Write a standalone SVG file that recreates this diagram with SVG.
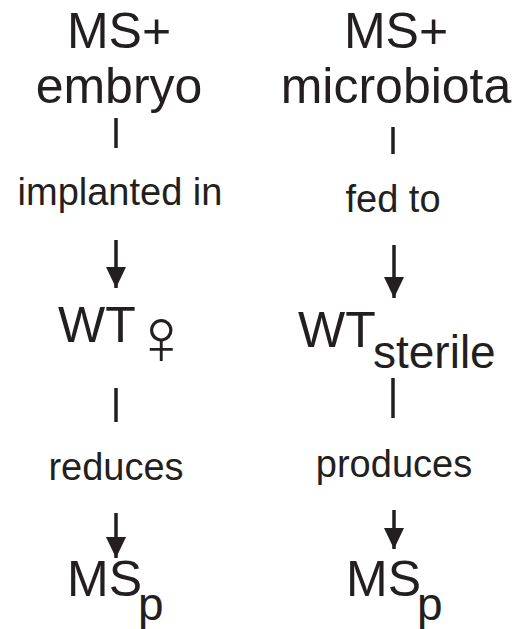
<svg xmlns="http://www.w3.org/2000/svg" width="512" height="629" viewBox="0 0 512 629">
<style>
text{font-family:"Liberation Sans",Arial,sans-serif;fill:#231f20}
.big{font-size:50px}
.lbl{font-size:38px}
.sub{font-size:46px}
.sym{font-family:"DejaVu Sans",sans-serif;font-size:80px;font-weight:200}
.ln{stroke:#231f20;stroke-width:3.5;fill:none}
.ah{fill:#231f20}
</style>
<defs>
<marker id="arr" viewBox="0 0 21 20" refX="21" refY="10" markerWidth="21" markerHeight="20" markerUnits="userSpaceOnUse" orient="auto"><path d="M0,0 L21,10 L0,20 Z" class="ah"/></marker>
</defs>
<g id="n-ms-embryo"><text class="big" x="119" y="48" text-anchor="middle">MS+</text><text class="big" x="119" y="103" text-anchor="middle">embryo</text></g>
<g id="n-ms-microbiota"><text class="big" x="396" y="48" text-anchor="middle">MS+</text><text class="big" x="396" y="103" text-anchor="middle">microbiota</text></g>
<g id="n-wt-female"><text class="big" x="58" y="342">WT</text><text class="sym" x="131" y="364">♀</text></g>
<g id="n-wt-sterile"><text class="big" x="298" y="347">WT</text><text class="sub" x="373" y="368">sterile</text></g>
<g id="n-msp-left"><text class="big" x="67" y="596">MS</text><text class="sub" x="138" y="620">p</text></g>
<g id="n-msp-right"><text class="big" x="346" y="596">MS</text><text class="sub" x="417" y="620">p</text></g>
<g id="connectors">
<line class="ln" x1="116" y1="118" x2="116" y2="148"/>
<text class="lbl" x="120" y="205" text-anchor="middle">implanted in</text>
<line class="ln" x1="116" y1="240" x2="116" y2="288" marker-end="url(#arr)"/>
<line class="ln" x1="116" y1="388" x2="116" y2="422"/>
<text class="lbl" x="116" y="480" text-anchor="middle">reduces</text>
<line class="ln" x1="116" y1="513" x2="116" y2="558" marker-end="url(#arr)"/>
<line class="ln" x1="393" y1="127" x2="393" y2="154"/>
<text class="lbl" x="393" y="212" text-anchor="middle">fed to</text>
<line class="ln" x1="394" y1="245" x2="394" y2="298" marker-end="url(#arr)"/>
<line class="ln" x1="393" y1="378" x2="393" y2="418"/>
<text class="lbl" x="394" y="477" text-anchor="middle">produces</text>
<line class="ln" x1="394" y1="510" x2="394" y2="549" marker-end="url(#arr)"/>
</g>
</svg>
